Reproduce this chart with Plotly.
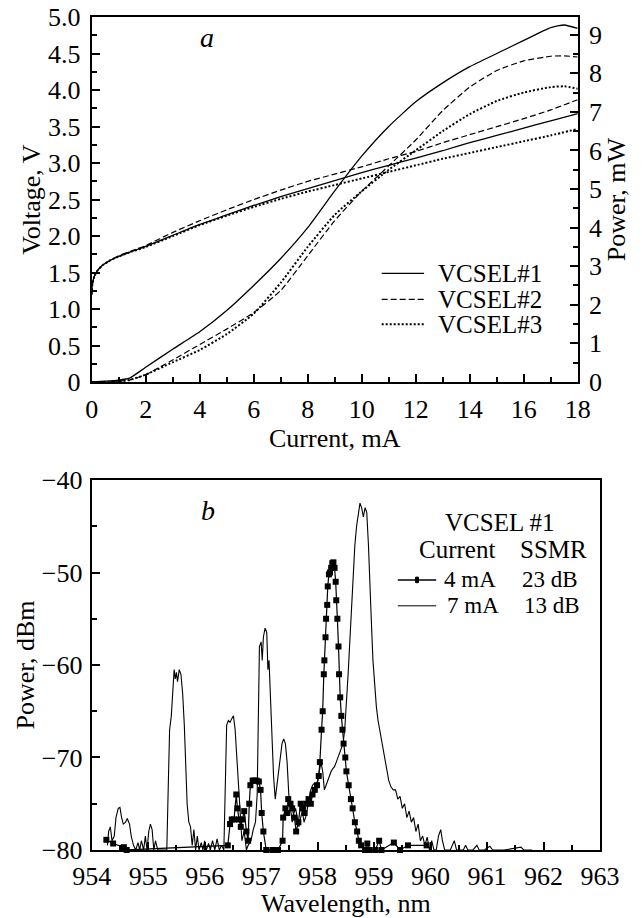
import plotly.graph_objects as go

# ---------------- Panel a data ----------------
current_v = [0, 0.03, 0.1, 0.2, 0.4, 0.7, 1.0, 1.5, 2, 3, 4, 5, 6, 7, 8, 9, 10, 11, 12, 13, 14, 15, 16, 17, 18]
voltage_1 = [1.2, 1.35, 1.45, 1.52, 1.6, 1.67, 1.72, 1.79, 1.86, 2.01, 2.16, 2.29, 2.42, 2.54, 2.65, 2.76, 2.87, 2.97, 3.07, 3.17, 3.28, 3.38, 3.48, 3.58, 3.68]
voltage_2 = [1.2, 1.35, 1.45, 1.52, 1.6, 1.67, 1.73, 1.8, 1.87, 2.05, 2.21, 2.36, 2.5, 2.63, 2.75, 2.85, 2.95, 3.06, 3.16, 3.28, 3.39, 3.5, 3.61, 3.73, 3.87]
voltage_3 = [1.2, 1.35, 1.45, 1.52, 1.6, 1.67, 1.72, 1.79, 1.85, 2.0, 2.15, 2.28, 2.4, 2.51, 2.61, 2.7, 2.79, 2.88, 2.97, 3.06, 3.14, 3.22, 3.3, 3.38, 3.47]

current_p = [0, 0.5, 1.0, 1.4, 2, 3, 4, 5, 6, 7, 8, 9, 10, 11, 12, 13, 14, 15, 16, 17, 17.5, 18]
power_1 = [0, 0.02, 0.05, 0.1, 0.38, 0.85, 1.3, 1.85, 2.5, 3.2, 4.0, 4.95, 5.85, 6.62, 7.26, 7.75, 8.17, 8.51, 8.85, 9.18, 9.25, 9.16]
power_2 = [0, 0.0, 0.02, 0.05, 0.19, 0.57, 0.97, 1.37, 1.8, 2.37, 3.27, 4.18, 4.94, 5.6, 6.27, 7.03, 7.64, 8.07, 8.32, 8.44, 8.45, 8.42]
power_3 = [0, 0.0, 0.02, 0.05, 0.19, 0.51, 0.83, 1.24, 1.77, 2.57, 3.5, 4.33, 4.94, 5.5, 6.0, 6.5, 6.94, 7.28, 7.5, 7.64, 7.66, 7.6]

# ---------------- Panel b data ----------------
wl_7mA = [954.28, 954.30, 954.33, 954.36, 954.40, 954.43, 954.47, 954.50, 954.53, 954.56, 954.60, 954.63, 954.67,
          954.70, 954.74, 954.78, 954.82, 954.85, 954.88, 954.92, 954.95, 954.98, 955.01, 955.04, 955.07, 955.10,
          955.13, 955.17, 955.22, 955.28, 955.33, 955.36, 955.38, 955.41, 955.44, 955.46, 955.48, 955.50, 955.52,
          955.55, 955.58, 955.61, 955.64, 955.66, 955.69, 955.72, 955.75, 955.78, 955.81, 955.84, 955.87, 955.90,
          955.94, 955.97, 956.00, 956.03, 956.07, 956.10, 956.14, 956.18, 956.22, 956.26, 956.30, 956.34, 956.37,
          956.39, 956.42, 956.45, 956.48, 956.51, 956.54, 956.57, 956.60, 956.63, 956.66, 956.70, 956.74, 956.77,
          956.82, 956.86, 956.90, 956.93, 956.95, 956.97, 957.00, 957.02, 957.04, 957.07, 957.10, 957.12, 957.14,
          957.16, 957.19, 957.22, 957.25, 957.28, 957.31, 957.34, 957.37, 957.40, 957.43, 957.46, 957.49, 957.52,
          957.55, 957.58, 957.61, 957.64, 957.67, 957.70, 957.73, 957.76, 957.79, 957.82, 957.85, 957.88, 957.91,
          957.94, 957.97, 958.00, 958.03, 958.06, 958.09, 958.12, 958.15, 958.18, 958.21, 958.24, 958.27, 958.30,
          958.33, 958.36, 958.39, 958.42, 958.45, 958.48, 958.51, 958.54, 958.57, 958.60, 958.63, 958.66, 958.69,
          958.72, 958.75, 958.78, 958.81, 958.84, 958.87, 958.90, 958.92, 958.95, 958.98, 959.01, 959.04, 959.07,
          959.10, 959.14, 959.18, 959.22, 959.26, 959.30, 959.34, 959.38, 959.42, 959.46, 959.50, 959.54, 959.58,
          959.62, 959.66, 959.70, 959.74, 959.78, 959.82, 959.86, 959.90, 959.94, 959.98, 960.02, 960.06, 960.10,
          960.14, 960.18, 960.21, 960.25, 960.30, 960.35, 960.42, 960.46, 960.52, 960.58, 960.62, 960.66, 960.75,
          960.82, 960.86, 960.95, 961.05, 961.10, 961.30, 961.60, 961.65, 961.80]
pw_7mA = [-79.5, -78.0, -77.5, -79.0, -78.5, -76.5, -75.5, -75.4, -76.5, -77.2, -77.0, -76.6, -77.2,
          -78.5, -79.5, -80, -79.2, -80, -79.0, -80, -78.5, -80, -78.0, -77.2, -77.8, -80,
          -79.0, -80, -80, -80, -80, -72, -67, -65.5, -61.5, -60.5, -61.5, -60.8, -61.8,
          -60.5, -61, -63, -66.5, -70, -75, -77, -77.5, -79.5, -77.8, -80, -78.5, -80,
          -79.2, -80, -79, -80, -79.3, -80, -79, -80, -78.8, -80, -79.5, -80, -72,
          -66.5, -66, -66.2, -65.8, -65.5, -67, -70, -74, -77, -79, -78, -80, -79.5,
          -79, -77.8, -77, -74, -65, -58, -57.5, -59.5, -57, -56, -56.5, -60.5, -59.5,
          -63, -68, -72, -74.5, -73, -71, -69.5, -68.5, -68, -68.5, -70.5, -74, -75.5,
          -77, -76, -75.5, -76.5, -77.5, -76.5, -75.8, -77, -76.4, -75.5, -74.5, -73.5, -73,
          -72.8, -73, -72.5, -71.5, -70.5, -71.5, -73.5, -73, -72.5, -71.8, -71.5, -71.2, -71,
          -70.5, -70, -69.5, -69, -68.5, -67, -64.5, -61, -57.5, -54, -50, -47, -45,
          -43.5, -42.5, -43, -44, -43, -43.5, -47, -51, -55, -59.5, -62.5, -64.5, -66,
          -67, -68.5, -70, -71, -72.5, -73.2, -73.5, -73.5, -74.5, -74.2, -75.5, -75, -76.5,
          -75.8, -77, -76.5, -78, -77.2, -79, -78.5, -79.5, -78.6, -80, -79, -80, -80,
          -78.5, -77.8, -79, -80, -80, -80, -79, -80, -80, -80, -79.5, -80, -80,
          -79.5, -80, -80, -79.6, -80, -80, -79.7, -80, -80]

wl_4mA = [954.26, 954.38, 954.57, 954.62, 956.41, 956.45, 956.48, 956.52, 956.56, 956.58, 956.61, 956.64, 956.67,
          956.70, 956.74, 956.77, 956.79, 956.81, 956.85, 956.88, 956.92, 956.96, 956.99, 957.01, 957.04, 957.09,
          957.20, 957.30, 957.38, 957.39, 957.43, 957.46, 957.48, 957.52, 957.55, 957.59, 957.62, 957.66, 957.70,
          957.73, 957.77, 957.80, 957.84, 957.88, 957.91, 957.95, 957.99, 958.02, 958.04, 958.07, 958.09, 958.11,
          958.12, 958.14, 958.15, 958.17, 958.18, 958.20, 958.22, 958.24, 958.26, 958.28, 958.30, 958.32, 958.33,
          958.35, 958.37, 958.38, 958.40, 958.42, 958.44, 958.46, 958.49, 958.51, 958.55, 958.59, 958.62, 958.66,
          958.70, 958.73, 958.77, 958.84, 958.88, 958.91, 959.02, 959.09, 959.13, 959.35, 959.46, 959.60, 959.93]
pw_4mA = [-78.9, -79.3, -79.7, -80, -79.5, -77.2, -76.7, -76.7, -74.0, -75.5, -76.7, -77.5, -76.7,
          -75.8, -78.0, -79.0, -75.0, -73.0, -72.5, -72.5, -72.5, -72.6, -73.5, -76.0, -78.0, -80,
          -80, -80, -79.0, -76.5, -75.5, -76.0, -74.5, -75.0, -75.5, -76.5, -78.0, -77.0, -75.0,
          -75.5, -76.0, -75.0, -74.5, -75.0, -74.0, -73.5, -73.0, -72.0, -70.5, -67.0, -65.0, -61.0,
          -59.5, -57.0, -55.0, -53.5, -51.5, -50.2, -50.0, -49.5, -49.0, -48.9, -49.5, -51.0, -53.0,
          -55.0, -58.0, -61.0, -63.5, -65.5, -67.0, -68.5, -70.0, -71.5, -73.0, -74.5, -75.5, -77.0,
          -78.0, -79.0, -79.5, -80, -79.3, -80, -80, -79.0, -80, -79.2, -80, -79.5, -79.5]

# ---------------- Text ----------------
series_names_a = ["VCSEL#1", "VCSEL#2", "VCSEL#3"]
x_title_a, y_title_a, y2_title_a = "Current, mA", "Voltage, V", "Power, mW"
x_title_b, y_title_b = "Wavelength, nm", "Power, dBm"

FONT = "Liberation Serif"
BLACK = "#000000"
dashes = ["solid", "6px,3px", "2px,2px"]
widths = [1.3, 1.2, 2.0]

fig = go.Figure()

volts = [voltage_1, voltage_2, voltage_3]
powers = [power_1, power_2, power_3]
for i in range(3):
    fig.add_trace(go.Scatter(x=current_v, y=volts[i], mode="lines", xaxis="x", yaxis="y",
                             line=dict(color=BLACK, width=widths[i], dash=dashes[i], shape="spline", smoothing=0.5),
                             showlegend=False, name=series_names_a[i]))
    fig.add_trace(go.Scatter(x=current_p, y=powers[i], mode="lines", xaxis="x", yaxis="y2",
                             line=dict(color=BLACK, width=widths[i], dash=dashes[i], shape="spline", smoothing=0.5),
                             showlegend=False, name=series_names_a[i]))

fig.add_trace(go.Scatter(x=wl_7mA, y=pw_7mA, mode="lines", xaxis="x3", yaxis="y3",
                         line=dict(color=BLACK, width=1.1), showlegend=False, name="7 mA"))
fig.add_trace(go.Scatter(x=wl_4mA, y=pw_4mA, mode="lines+markers", xaxis="x3", yaxis="y3",
                         line=dict(color=BLACK, width=1.2), marker=dict(symbol="square", size=6, color=BLACK),
                         cliponaxis=False, showlegend=False, name="4 mA"))

tickfont = dict(family=FONT, size=26, color=BLACK)
titlefont = dict(family=FONT, size=26, color=BLACK)

common = dict(showgrid=False, zeroline=False, showline=True, linecolor=BLACK, linewidth=2,
              ticks="inside", ticklen=8, tickwidth=1.5, tickcolor=BLACK, tickfont=tickfont,
              automargin=True)

fig.update_layout(
    width=642, height=918, margin=dict(l=0, r=0, t=0, b=0, autoexpand=False),
    paper_bgcolor="white", plot_bgcolor="white",
    font=dict(family=FONT, color=BLACK),
    xaxis=dict(domain=[0.1428, 0.8999], anchor="y", range=[0, 18], dtick=2, tick0=0,
               mirror=True, ticklabelstandoff=3,
               minor=dict(ticks="inside", ticklen=5, dtick=1, tickcolor=BLACK, tickwidth=1.5),
               title=dict(text=x_title_a, font=titlefont, standoff=0), **common),
    yaxis=dict(domain=[0.5839, 0.9812], anchor="x", range=[0, 5], dtick=0.5, tick0=0,
               tickformat=".1f", labelalias={"0.0": "0"}, ticklabelstandoff=4,
               minor=dict(ticks="inside", ticklen=5, dtick=0.25, tickcolor=BLACK, tickwidth=1.5),
               title=dict(text=y_title_a, font=titlefont, standoff=0), **common),
    yaxis2=dict(overlaying="y", side="right", anchor="x", range=[0, 9.45], dtick=1, tick0=0,
                ticklabelstandoff=4,
                minor=dict(ticks="inside", ticklen=5, dtick=0.5, tickcolor=BLACK, tickwidth=1.5),
                title=dict(text=y2_title_a, font=titlefont, standoff=6), **common),
    xaxis3=dict(domain=[0.1428, 0.9346], anchor="y3", range=[954, 963], dtick=1, tick0=954,
                mirror=True, ticklabelstandoff=2,
                minor=dict(ticks="inside", ticklen=5, dtick=0.5, tickcolor=BLACK, tickwidth=1.5),
                title=dict(text=x_title_b, font=titlefont, standoff=1), **common),
    yaxis3=dict(domain=[0.0741, 0.4771], anchor="x3", range=[-80, -40], dtick=10, tick0=-80,
                mirror=True, ticklabelstandoff=2,
                minor=dict(ticks="inside", ticklen=5, dtick=5, tickcolor=BLACK, tickwidth=1.5),
                title=dict(text=y_title_b, font=titlefont, standoff=0), **common),
)

ann = []
# panel labels
ann.append(dict(x=4.26, y=4.72, xref="x", yref="y", text="<i>a</i>", showarrow=False,
                font=dict(family=FONT, size=28, color=BLACK)))
ann.append(dict(x=956.06, y=-43.3, xref="x3", yref="y3", text="<i>b</i>", showarrow=False,
                font=dict(family=FONT, size=28, color=BLACK)))

# panel a legend
leg_y = [1.489, 1.133, 0.79]
for i in range(3):
    ann.append(dict(x=12.75, y=leg_y[i], xref="x", yref="y", text=series_names_a[i], showarrow=False,
                    xanchor="left", yanchor="middle", font=dict(family=FONT, size=25, color=BLACK)))
    fig.add_shape(type="line", xref="x", yref="y", x0=10.74, x1=12.31, y0=leg_y[i], y1=leg_y[i],
                  line=dict(color=BLACK, width=widths[i], dash=dashes[i]))

# panel b legend
lf = dict(family=FONT, size=25, color=BLACK)
rf = dict(family=FONT, size=23, color=BLACK)
r1, r2 = -50.8, -53.6
ann.append(dict(x=961.23, y=-44.6, xref="x3", yref="y3", text="VCSEL #1", showarrow=False, font=lf))
ann.append(dict(x=960.47, y=-47.5, xref="x3", yref="y3", text="Current", showarrow=False, font=lf))
ann.append(dict(x=962.17, y=-47.5, xref="x3", yref="y3", text="SSMR", showarrow=False, font=lf))
ann.append(dict(x=960.21, y=r1, xref="x3", yref="y3", text="4 mA", showarrow=False, xanchor="left", font=rf))
ann.append(dict(x=961.59, y=r1, xref="x3", yref="y3", text="23 dB", showarrow=False, xanchor="left", font=rf))
ann.append(dict(x=960.25, y=r2, xref="x3", yref="y3", text="7 mA", showarrow=False, xanchor="left", font=rf))
ann.append(dict(x=961.62, y=r2, xref="x3", yref="y3", text="13 dB", showarrow=False, xanchor="left", font=rf))
fig.add_shape(type="line", xref="x3", yref="y3", x0=959.42, x1=960.10, y0=r1, y1=r1,
              line=dict(color=BLACK, width=1.5))
fig.add_shape(type="rect", xref="x3", yref="y3", x0=959.735, x1=959.785, y0=r1 - 0.3, y1=r1 + 0.3,
              line=dict(color=BLACK, width=1), fillcolor=BLACK)
fig.add_shape(type="line", xref="x3", yref="y3", x0=959.42, x1=960.10, y0=r2, y1=r2,
              line=dict(color=BLACK, width=1.0))

fig.update_layout(annotations=ann)

fig.write_html("out.html", config={"displayModeBar": False},
               post_script="document.body.style.margin='0';")
